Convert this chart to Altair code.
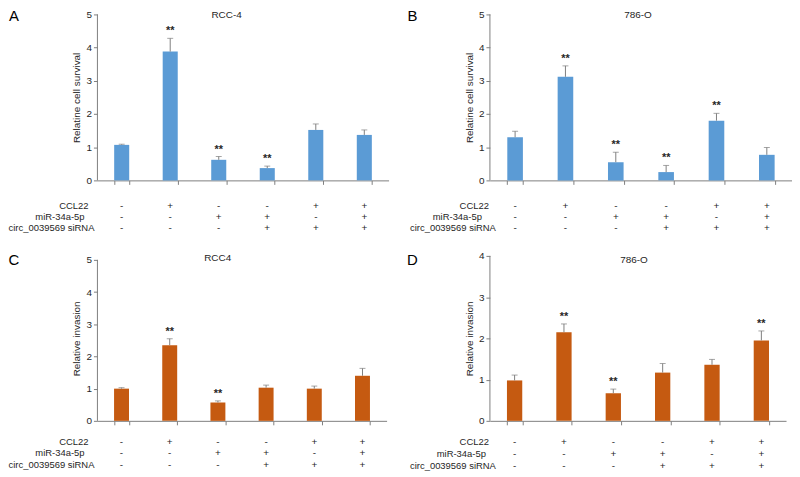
import altair as alt
import pandas as pd

# ---- data ----
groups = ["1", "2", "3", "4", "5", "6"]
ccl22 = ["-", "+", "-", "-", "+", "+"]
mir34 = ["-", "-", "+", "+", "-", "+"]
circ_si = ["-", "-", "-", "+", "+", "+"]
row_names = ["CCL22", "miR-34a-5p", "circ_0039569 siRNA"]

a_vals = [1.07, 3.88, 0.62, 0.37, 1.52, 1.37]
a_errs = [0.02, 0.40, 0.10, 0.06, 0.18, 0.15]
a_star = ["", "**", "**", "**", "", ""]

b_vals = [1.30, 3.12, 0.55, 0.25, 1.80, 0.77]
b_errs = [0.18, 0.33, 0.30, 0.20, 0.22, 0.22]
b_star = ["", "**", "**", "**", "**", ""]

c_vals = [1.00, 2.35, 0.57, 1.03, 1.00, 1.40]
c_errs = [0.03, 0.20, 0.05, 0.08, 0.08, 0.23]
c_star = ["", "**", "**", "", "", ""]

d_vals = [0.98, 2.15, 0.67, 1.17, 1.36, 1.95]
d_errs = [0.13, 0.20, 0.10, 0.22, 0.13, 0.23]
d_star = ["", "**", "**", "", "", "**"]

BLUE = "#5B9BD5"
ORANGE = "#C55A11"
AXIS_C = "#7f7f7f"
TEXT_C = "#262626"
FONT = "Liberation Sans"


def panel(vals, errs, stars, color, ymax, ydom, w, h, ytitle, title, title_xy,
          letter, letter_xy, row_y, lab_dx):
    df = pd.DataFrame({
        "g": groups, "v": vals, "e": errs,
        "top": [v + e for v, e in zip(vals, errs)],
        "s": stars, "ccl": ccl22, "mir": mir34, "circ": circ_si,
    })
    x = alt.X("g:N", sort=None,
              scale=alt.Scale(paddingInner=0.69, paddingOuter=0.345),
              axis=alt.Axis(labels=False, title=None, tickBand="extent",
                            tickSize=4, domainColor=AXIS_C, tickColor=AXIS_C,
                            grid=False))
    yaxis = alt.Axis(values=list(range(0, ymax + 1)), grid=False, tickSize=4,
                     domain=False, tickColor=AXIS_C, labelColor=TEXT_C,
                     labelFontSize=10, labelFont=FONT, labelPadding=2,
                     title=ytitle, titleFont=FONT, titleFontSize=10,
                     titleFontWeight="normal", titleColor=TEXT_C,
                     titlePadding=4)
    yscale = alt.Scale(domain=[0, ydom], nice=False)
    y = alt.Y("v:Q", scale=yscale, axis=yaxis)
    ytop = alt.Y("top:Q", scale=yscale, axis=yaxis)

    base = alt.Chart(df)
    one = alt.Chart(pd.DataFrame({"k": [0]}))
    yline = one.mark_rule(color=AXIS_C, strokeWidth=1).encode(
        x=alt.value(0), y=alt.datum(0, scale=yscale, axis=yaxis),
        y2=alt.datum(ymax))
    bars = base.mark_bar(color=color).encode(x=x, y=y)
    err = base.mark_rule(color=AXIS_C, strokeWidth=1).encode(
        x=x, y=y, y2=alt.Y2("top:Q"))
    cap = base.mark_tick(color=AXIS_C, thickness=1, size=6,
                         orient="horizontal").encode(x=x, y=ytop)
    star = base.mark_text(dy=-7, fontSize=11, font=FONT, color=TEXT_C,
                          fontWeight="bold").encode(x=x, y=ytop, text="s:N")
    layers = [bars, yline, err, cap, star]
    for field, ry in zip(["ccl", "mir", "circ"], row_y):
        layers.append(base.mark_text(fontSize=10, font=FONT, color=TEXT_C)
                      .encode(x=x, y=alt.value(ry), text=f"{field}:N"))
    for name, ry, dx in zip(row_names, row_y, lab_dx):
        layers.append(one.mark_text(fontSize=9.5, font=FONT, color=TEXT_C,
                                    align="right", baseline="middle")
                      .encode(x=alt.value(dx), y=alt.value(ry),
                              text=alt.value(name)))
    layers.append(one.mark_text(fontSize=10, font=FONT, color=TEXT_C,
                                baseline="middle")
                  .encode(x=alt.value(title_xy[0]), y=alt.value(title_xy[1]),
                          text=alt.value(title)))
    layers.append(one.mark_text(fontSize=15, font=FONT, color="#000000",
                                baseline="middle")
                  .encode(x=alt.value(letter_xy[0]), y=alt.value(letter_xy[1]),
                          text=alt.value(letter)))
    return alt.layer(*layers).properties(width=w, height=h)


A = panel(a_vals, a_errs, a_star, BLUE, 5, 5, 293, 167, "Relatine cell survival",
          "RCC-4", (130, 1), "A", (-84, 2), [193, 204, 215], [-9, -13, -3])
B = panel(b_vals, b_errs, b_star, BLUE, 5, 5, 304, 167, "Relatine cell survival",
          "786-O", (149, 1), "B", (-78, 2), [193, 204, 215], [-1, -8, 6])
C = panel(c_vals, c_errs, c_star, ORANGE, 5, 5 * 166 / 162, 291, 166,
          "Relative invasion", "RCC4", (121, 2), "C", (-84, 4),
          [187, 198, 210], [-9, -13, -3])
D = panel(d_vals, d_errs, d_star, ORANGE, 4, 4, 298, 166, "Relative invasion",
          "786-O", (145, 4), "D", (-78, 4), [187, 199, 211], [-1, -4, 6])

chart = (alt.concat(A, B, C, D, columns=2, spacing={"row": 76, "column": 102},
                    bounds="flush", align="each")
         .properties(padding=0, background="white")
         .configure_view(stroke=None))

chart.save("out.html", embed_options={"renderer": "svg", "actions": False})
